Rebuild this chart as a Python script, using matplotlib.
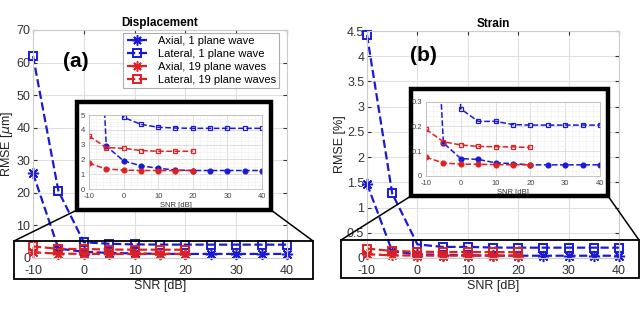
import numpy as np
import matplotlib
matplotlib.use("Agg")
import matplotlib.pyplot as plt
from matplotlib.patches import Rectangle
from matplotlib.lines import Line2D
from matplotlib.ticker import MultipleLocator

plt.rcParams["font.family"] = ["Liberation Sans", "DejaVu Sans"]
plt.rcParams["axes.unicode_minus"] = False

# SNR levels
snr_1pw = [-10, -5, 0, 5, 10, 15, 20, 25, 30, 35, 40]
snr_19pw = [-10, -5, 0, 5, 10, 15, 20]

# Displacement RMSE [um]
disp_axial_1pw = [26.0, 2.9, 1.9, 1.57, 1.4, 1.28, 1.25, 1.25, 1.25, 1.25, 1.25]
disp_lateral_1pw = [62.0, 20.6, 4.84, 4.37, 4.17, 4.12, 4.1, 4.1, 4.1, 4.1, 4.1]
disp_axial_19pw = [1.74, 1.35, 1.28, 1.25, 1.25, 1.25, 1.25]
disp_lateral_19pw = [3.58, 2.8, 2.75, 2.6, 2.55, 2.55, 2.55]

# Strain RMSE [%]
strain_axial_1pw = [1.47, 0.133, 0.07, 0.067, 0.053, 0.05, 0.045, 0.045, 0.045, 0.045, 0.045]
strain_lateral_1pw = [4.42, 1.28, 0.27, 0.22, 0.22, 0.207, 0.205, 0.205, 0.205, 0.205, 0.205]
strain_axial_19pw = [0.076, 0.052, 0.048, 0.047, 0.046, 0.045, 0.045]
strain_lateral_19pw = [0.188, 0.138, 0.125, 0.119, 0.118, 0.117, 0.115]

labels = ["Axial, 1 plane wave", "Lateral, 1 plane wave",
          "Axial, 19 plane waves", "Lateral, 19 plane waves"]

BLUE = "#1a1ad6"
RED = "#e02020"
W, H = 640, 310
AST = (8, 2, 0)


def fx(px):
    return px / W


def fy(py):
    return 1 - py / H


def pax(fig, x0, y0, x1, y1):
    # axes from pixel box (top-left origin)
    return fig.add_axes([fx(x0), fy(y1), fx(x1) - fx(x0), fy(y0) - fy(y1)])


def draw_main(ax, series, ylim, ystep):
    a1, l1, a19, l19 = series
    kw = dict(ls="--", lw=1.6, clip_on=False)
    ax.plot(snr_1pw, a1, color=BLUE, marker=AST, mec=BLUE, ms=8, mew=1.1, **kw)
    ax.plot(snr_1pw, l1, color=BLUE, marker="s", mfc="none", mec=BLUE, ms=6, mew=1.4, **kw)
    ax.plot(snr_19pw, a19, color=RED, marker=AST, mec=RED, ms=8, mew=1.1, **kw)
    ax.plot(snr_19pw, l19, color=RED, marker="s", mfc="none", mec=RED, ms=6, mew=1.4, **kw)
    ax.set_xlim(-10, 40)
    ax.set_ylim(*ylim)
    ax.set_xticks([-10, 0, 10, 20, 30, 40])
    ax.yaxis.set_major_locator(MultipleLocator(ystep))
    ax.yaxis.set_major_formatter(plt.FuncFormatter(lambda v, p: "%g" % v))
    ax.grid(True, color="#e0e0e0", lw=0.8)
    ax.set_axisbelow(True)
    ax.tick_params(labelsize=9, colors="#333333", length=3, direction="in",
                   top=True, right=True, pad=2)
    ax.tick_params(axis="x", pad=5)
    for s in ax.spines.values():
        s.set_color("#cccccc")
    ax.set_xlabel("SNR [dB]", fontsize=9, labelpad=2, color="#222222")


def draw_inset(ax, series, ylim, yticks, minor):
    a1, l1, a19, l19 = series
    kw = dict(ls="--", lw=1.1, ms=3.5, mew=0.9)
    ax.plot(snr_1pw, a1, color=BLUE, marker="o", mec=BLUE, mfc=BLUE, **kw)
    ax.plot(snr_1pw, l1, color=BLUE, marker="s", mfc="none", mec=BLUE, **kw)
    ax.plot(snr_19pw, a19, color=RED, marker="o", mec=RED, mfc=RED, **kw)
    ax.plot(snr_19pw, l19, color=RED, marker="s", mfc="none", mec=RED, **kw)
    ax.set_xlim(-10, 40)
    ax.set_ylim(*ylim)
    ax.set_xticks([-10, 0, 10, 20, 30, 40])
    ax.set_yticks(yticks)
    ax.yaxis.set_major_formatter(plt.FuncFormatter(lambda v, p: "%g" % v))
    ax.xaxis.set_minor_locator(MultipleLocator(2))
    ax.yaxis.set_minor_locator(MultipleLocator(minor))
    ax.grid(True, which="major", color="#d8d8d8", lw=0.6)
    ax.grid(True, which="minor", color="#eeeeee", lw=0.4)
    ax.set_axisbelow(True)
    ax.tick_params(which="both", labelsize=5.5, colors="#444444", length=0, pad=3)
    for s in ax.spines.values():
        s.set_color("#bbbbbb")
        s.set_linewidth(0.6)
    ax.set_xlabel("SNR [dB]", fontsize=5.5, labelpad=1, color="#333333")


def draw_frame(fig, box):
    x0, y0, x1, y1 = box
    fig.add_artist(Rectangle((fx(x0 + 2), fy(y1 + 2)), fx(x1 - x0), fy(y0) - fy(y1),
                             transform=fig.transFigure, fc="#d8d8d8", ec="none",
                             zorder=1))
    fig.add_artist(Rectangle((fx(x0), fy(y1)), fx(x1 - x0), fy(y0) - fy(y1),
                             transform=fig.transFigure, fc="white", ec="black",
                             lw=3.2, zorder=2))


def draw_zoom(fig, rect, frame):
    rx0, ry0, rx1, ry1 = rect
    fx0, fy0, fx1, fy1 = frame
    fig.add_artist(Rectangle((fx(rx0), fy(ry1)), fx(rx1 - rx0), fy(ry0) - fy(ry1),
                             transform=fig.transFigure, fc="none", ec="black",
                             lw=1.3, zorder=4))
    fig.add_artist(Line2D([fx(rx0), fx(fx0)], [fy(ry0), fy(fy1)],
                          transform=fig.transFigure, color="black", lw=1.1, zorder=4))
    fig.add_artist(Line2D([fx(rx1), fx(fx1)], [fy(ry0), fy(fy1)],
                          transform=fig.transFigure, color="black", lw=1.1, zorder=4))


fig = plt.figure(figsize=(6.4, 3.1), dpi=100)

disp = [disp_axial_1pw, disp_lateral_1pw, disp_axial_19pw, disp_lateral_19pw]
strain = [strain_axial_1pw, strain_lateral_1pw, strain_axial_19pw, strain_lateral_19pw]

# ---- Displacement ----
ax1 = pax(fig, 33, 30, 287, 258)
ax1.set_zorder(0)
draw_main(ax1, disp, (0, 70), 10)
ax1.set_title("Displacement", fontsize=8.5, fontweight="bold", pad=3)
ax1.set_ylabel(r"RMSE [$\mu$m]", fontsize=9, labelpad=1, color="#222222")
ax1.text(0.12, 0.86, "(a)", transform=ax1.transAxes, fontsize=15,
         fontweight="bold", ha="left", va="center")
leg = ax1.legend(labels, loc="upper right", bbox_to_anchor=(0.97, 0.987),
                 fontsize=8, frameon=True, fancybox=False, handlelength=1.8,
                 handletextpad=1.0, borderpad=0.3, labelspacing=0.25,
                 borderaxespad=0, markerscale=0.9)
leg.get_frame().set_edgecolor("#999999")
leg.get_frame().set_linewidth(0.8)

frame1 = (77, 102, 271, 210)
draw_frame(fig, frame1)
in1 = pax(fig, 89, 115, 262, 189)
in1.set_zorder(3)
draw_inset(in1, disp, (0, 5), [0, 1, 2, 3, 4, 5], 0.25)
draw_zoom(fig, (14, 241, 313, 279), frame1)

# ---- Strain ----
ax2 = pax(fig, 367, 31, 619, 258)
ax2.set_zorder(0)
draw_main(ax2, strain, (0, 4.5), 0.5)
ax2.set_title("Strain", fontsize=8.5, fontweight="bold", pad=3)
ax2.set_ylabel("RMSE [%]", fontsize=9, labelpad=1, color="#222222")
ax2.text(0.17, 0.89, "(b)", transform=ax2.transAxes, fontsize=15,
         fontweight="bold", ha="left", va="center")

frame2 = (411, 89, 608, 196)
draw_frame(fig, frame2)
in2 = pax(fig, 426, 101.5, 600, 176)
in2.set_zorder(3)
draw_inset(in2, strain, (0, 0.3), [0, 0.1, 0.2, 0.3], 0.02)
draw_zoom(fig, (341, 240, 639, 278), frame2)

fig.savefig("out.png", dpi=100)
